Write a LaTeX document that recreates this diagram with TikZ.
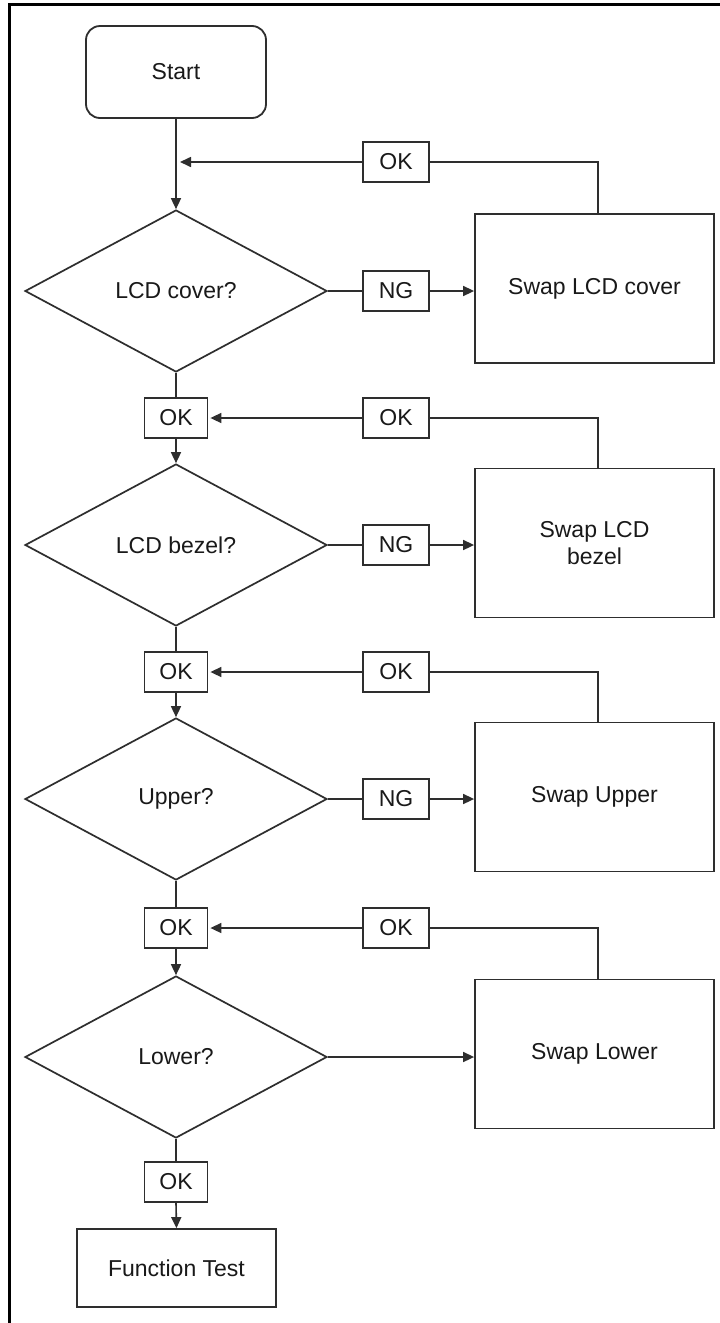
\documentclass[tikz,border=0pt]{standalone}
\usepackage{fontspec}
\setmainfont{Liberation Sans}
\usetikzlibrary{shapes.geometric,arrows.meta}
\definecolor{ln}{HTML}{2E2E2E}
\begin{document}
\begin{tikzpicture}[x=1pt,y=-1pt,
  every node/.style={font=\fontsize{23}{27}\selectfont, text=black!90, inner sep=0pt},
  box/.style={draw=ln, line width=1.8pt, rectangle},
  startbox/.style={box, rounded corners=14pt, minimum width=180pt, minimum height=92pt},
  decision/.style={draw=ln, line width=1.7pt, diamond, minimum width=302pt, minimum height=162pt},
  okl/.style={box, minimum width=63pt, minimum height=40pt},
  lab/.style={box, minimum width=66pt, minimum height=40pt},
  swapbox/.style={box, minimum width=239pt, minimum height=149pt, align=center},
  endbox/.style={box, minimum width=199pt, minimum height=78pt},
  conn/.style={draw=ln, line width=1.6pt},
  arr/.style={conn, -{Triangle[length=11pt,width=10pt]}}
]
\useasboundingbox (0,0) rectangle (720,1323);
\fill[white] (0,0) rectangle (720,1323);
% frame
\draw[black, line width=3pt] (8,4.5) -- (720,4.5);
\draw[black, line width=3pt] (9.5,3) -- (9.5,1323);

% nodes
\node[startbox] (start) at (176,72) {Start};

\node[decision] (d1) at (176,291) {LCD cover?};
\node[decision] (d2) at (176,545) {LCD bezel?};
\node[decision] (d3) at (176,799) {Upper?};
\node[decision] (d4) at (176,1057) {Lower?};

\node[okl] (ok2) at (176,418) {OK};
\node[okl] (ok3) at (176,672) {OK};
\node[okl] (ok4) at (176,928) {OK};
\node[okl] (ok5) at (176,1182) {OK};

\node[lab] (r1) at (396,162) {OK};
\node[lab] (r2) at (396,418) {OK};
\node[lab] (r3) at (396,672) {OK};
\node[lab] (r4) at (396,928) {OK};

\node[lab] (ng1) at (396,291) {NG};
\node[lab] (ng2) at (396,545) {NG};
\node[lab] (ng3) at (396,799) {NG};

\node[swapbox] (s1) at (594.5,288.5) {Swap LCD cover};
\node[swapbox] (s2) at (594.5,543) {Swap LCD\\bezel};
\node[swapbox] (s3) at (594.5,797) {Swap Upper};
\node[swapbox] (s4) at (594.5,1054) {Swap Lower};

\node[endbox] (ft) at (176.5,1268) {Function Test};

% main flow
\draw[arr] (start.south) -- (d1.north);
\draw[conn] (d1.south) -- (ok2.north);
\draw[arr] (ok2.south) -- (d2.north);
\draw[conn] (d2.south) -- (ok3.north);
\draw[arr] (ok3.south) -- (d3.north);
\draw[conn] (d3.south) -- (ok4.north);
\draw[arr] (ok4.south) -- (d4.north);
\draw[conn] (d4.south) -- (ok5.north);
\draw[arr] (ok5.south) -- (ft.north);

% NG branches
\draw[conn] (d1.east) -- (ng1.west);
\draw[arr] (ng1.east) -- (ng1.east -| s1.west);
\draw[conn] (d2.east) -- (ng2.west);
\draw[arr] (ng2.east) -- (ng2.east -| s2.west);
\draw[conn] (d3.east) -- (ng3.west);
\draw[arr] (ng3.east) -- (ng3.east -| s3.west);
\draw[arr] (d4.east) -- (d4.east -| s4.west);

% return OK branches
\draw[conn] ([xshift=3.5pt]s1.north) |- (r1.east);
\draw[arr] (r1.west) -- ([xshift=4pt]r1.west -| start.south);
\draw[conn] ([xshift=3.5pt]s2.north) |- (r2.east);
\draw[arr] (r2.west) -- ([xshift=2pt]ok2.east);
\draw[conn] ([xshift=3.5pt]s3.north) |- (r3.east);
\draw[arr] (r3.west) -- ([xshift=2pt]ok3.east);
\draw[conn] ([xshift=3.5pt]s4.north) |- (r4.east);
\draw[arr] (r4.west) -- ([xshift=2pt]ok4.east);
\end{tikzpicture}
\end{document}
